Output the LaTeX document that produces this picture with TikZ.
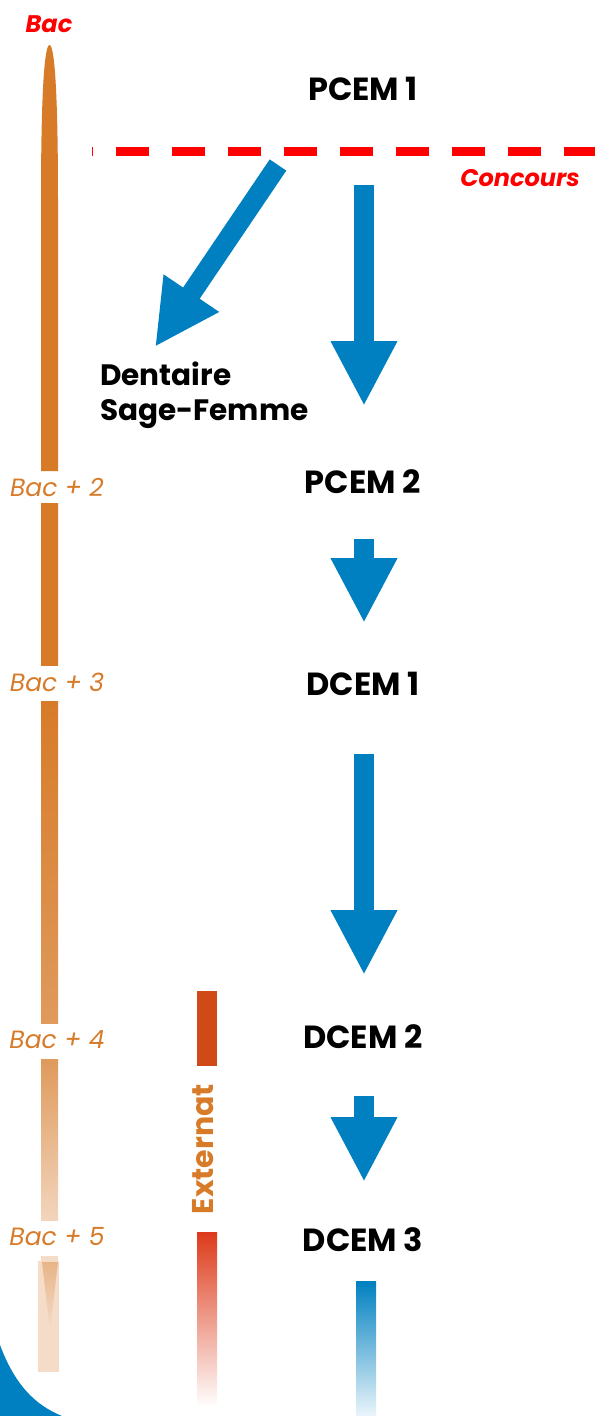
\documentclass[tikz,border=0pt]{standalone}
\usepackage{fontspec}
\setmainfont{Poppins}
\usetikzlibrary{arrows.meta}

\definecolor{modra}{HTML}{0080C0}
\definecolor{oranzna}{HTML}{D77B29}
\definecolor{oranzna2}{HTML}{DF9A5C}
\definecolor{oranzna3}{HTML}{F2D5BD}
\definecolor{oranzna4}{HTML}{F4DCC8}
\definecolor{rjava}{HTML}{D04A18}
\definecolor{rdeca}{HTML}{DD3A1A}

\tikzset{
  letnik/.style={font=\fontsize{32}{36}\selectfont\bfseries, text=black, inner sep=0pt},
  leto/.style={font=\fontsize{25}{30}\selectfont\itshape, text=oranzna, inner sep=0pt},
  puscica/.style={draw=modra, line width=20pt, -{Triangle[length=65pt,width=62pt]}}
}

\begin{document}
\begin{tikzpicture}[x=1pt,y=-1pt]
\useasboundingbox (0,0) rectangle (595,1416);

% modri kot spodaj levo
\fill[modra] (0,1345) .. controls (15,1385) and (35,1405) .. (62,1416) -- (0,1416) -- cycle;

% casovna os
\fill[oranzna] (41,471) -- (41,200) .. controls (41,100) and (44,45) .. (49.5,45)
  .. controls (55,45) and (58,100) .. (58,200) -- (58,471) -- cycle;
\foreach \a/\b/\ca/\cb in {503/665/oranzna/oranzna,701/1023/oranzna/oranzna2,1059/1220/oranzna2/oranzna3}
  \shade[top color=\ca,bottom color=\cb] (41,\a) rectangle (58,\b);
\fill[oranzna4] (41,1256) rectangle (58,1262);
\fill[oranzna4] (38,1261) rectangle (59,1372);
\shade[top color=oranzna2!60!oranzna4,bottom color=oranzna4] (42,1262) -- (58,1262) -- (50,1330) -- cycle;

\node[font=\fontsize{24}{28}\selectfont\bfseries\itshape, text=red, inner sep=0pt] (bac) at (49,24) {Bac};
\foreach \n/\y in {2/488,3/682,4/1040,5/1237}
  \node[leto] (bac\n) at (57,\y) {Bac + \n};

% letniki
\node[letnik] (pcem1) at (363,89) {PCEM 1};
\node[letnik] (pcem2) at (363,482) {PCEM 2};
\node[letnik] (dcem1) at (363,684) {DCEM 1};
\node[letnik] (dcem2) at (363,1037) {DCEM 2};
\node[letnik] (dcem3) at (363,1240) {DCEM 3};
\node[letnik, font=\fontsize{29.5}{34}\selectfont\bfseries, anchor=base west, align=left] (dentaire) at (100,420) {Dentaire\\[1pt]Sage-Femme};

% konkurz
\coordinate (crta1) at (92,151);
\coordinate (crta2) at (595,151);
\draw[red, line width=9pt, dash pattern=on 33pt off 23pt, dash phase=32pt] (crta1) -- (crta2);
\node[font=\fontsize{24}{28}\selectfont\bfseries\itshape, text=red, inner sep=0pt, anchor=east] (concours) at (580,178) {Concours};

% puscice
\coordinate (d1) at (278,165);
\coordinate (d2) at (155,347);
\coordinate (a1) at (364,185);
\coordinate (a2) at (364,406);
\coordinate (b1) at (364,539);
\coordinate (b2) at (364,623);
\coordinate (c1) at (364,754);
\coordinate (c2) at (364,975);
\coordinate (e1) at (364,1096);
\coordinate (e2) at (364,1182);
\draw[puscica] (d1) -- (d2);
\draw[puscica] (a1) -- (a2);
\draw[puscica] (b1) -- (b2);
\draw[puscica] (c1) -- (c2);
\draw[puscica] (e1) -- (e2);
\shade[top color=modra, bottom color=modra!8] (356,1281) rectangle (376,1416);

% externat
\fill[rjava] (197,991) rectangle (217,1066);
\node[font=\fontsize{30}{34}\selectfont\bfseries, text=oranzna, inner sep=0pt, rotate=90] (externat) at (203,1149) {Externat};
\shade[top color=rdeca, bottom color=white] (197,1232) rectangle (217,1407);

\end{tikzpicture}
\end{document}
